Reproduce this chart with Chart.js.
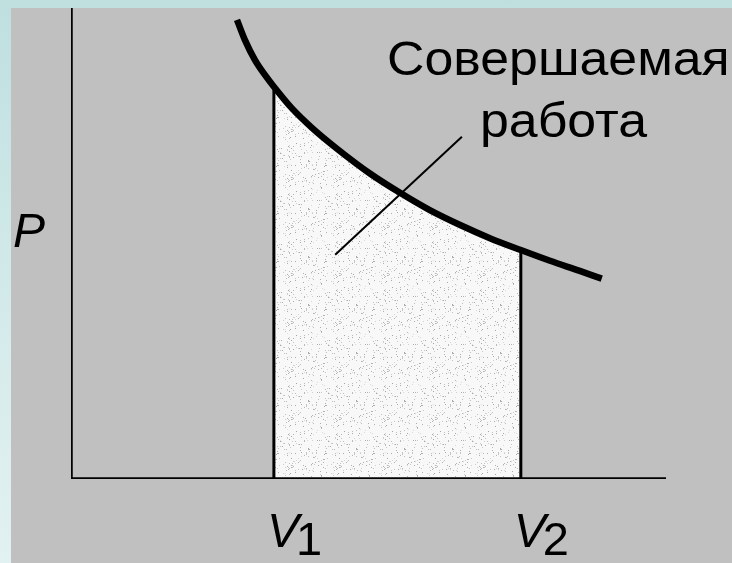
<!DOCTYPE html>
<html>
<head>
<meta charset="utf-8">
<script src="https://cdn.jsdelivr.net/npm/chart.js@4"></script>
<style>
  html, body { margin: 0; padding: 0; }
  body {
    width: 732px; height: 563px; overflow: hidden;
    background: linear-gradient(180deg, #bfdfdf 0%, #d6ebeb 60%, #e2f1f1 100%);
    position: relative;
  }
  #wrap { position: absolute; left: 11px; top: 8px; width: 721px; height: 555px; background: #c0c0c0; }
</style>
</head>
<body>
<div id="wrap"><canvas id="pv" width="721" height="555"></canvas></div>
<script>
  // isotherm (V, P in arbitrary units)
  const curveV = [2.79, 2.92, 3.09, 3.25, 3.41, 3.71, 4.05, 4.47, 5.03, 5.53, 6.03, 6.54, 7.04, 7.56, 8.05, 8.55, 8.92];
  const curveP = [7.70, 7.37, 7.03, 6.79, 6.58, 6.22, 5.89, 5.54, 5.12, 4.80, 4.51, 4.26, 4.04, 3.84, 3.66, 3.49, 3.36];

  const V1 = 3.41;
  const V2 = 7.56;
  const xMax = 10;
  const yMax = 7.9;

  // leader line from the shaded area to the caption
  const leaderV = [4.44, 6.57];
  const leaderP = [3.76, 5.74];

  const captionLines = ['Совершаемая', 'работа'];
  const xLabels = [{ v: V1, sub: '1' }, { v: V2, sub: '2' }];
  const yLabel = 'P';

  // work area: bounded by V1, curve, V2
  const areaPts = [{ x: V1, y: 0 }];
  curveV.forEach((v, i) => { if (v >= V1 && v <= V2) areaPts.push({ x: v, y: curveP[i] }); });
  areaPts.push({ x: V2, y: 0 });

  // speckled fill
  function speckle() {
    const c = document.createElement('canvas');
    c.width = 48; c.height = 48;
    const g = c.getContext('2d');
    g.fillStyle = '#f8f8f8';
    g.fillRect(0, 0, 48, 48);
    let s = 7;
    for (let i = 0; i < 170; i++) {
      s = (s * 16807) % 2147483647;
      const x = s % 48;
      s = (s * 16807) % 2147483647;
      const y = s % 48;
      s = (s * 16807) % 2147483647;
      const t = 165 + (s % 60);
      g.fillStyle = `rgb(${t},${t},${t})`;
      g.fillRect(x, y, 1, 1);
    }
    return g.createPattern(c, 'repeat');
  }

  const textPlugin = {
    id: 'labels',
    afterDatasetsDraw(chart) {
      const { ctx, scales: { x } } = chart;
      ctx.save();
      ctx.fillStyle = '#000';
      ctx.textBaseline = 'alphabetic';
      ctx.textAlign = 'left';
      // caption, set a little wider like the original lettering
      ctx.font = '48px "Liberation Sans", Arial, sans-serif';
      [[captionLines[0], 376, 67], [captionLines[1], 469, 129]].forEach(([t, tx, ty]) => {
        ctx.save();
        ctx.translate(tx, ty);
        ctx.scale(1.08, 1);
        ctx.fillText(t, 0, 0);
        ctx.restore();
      });
      // P
      ctx.font = 'italic 48px "Liberation Sans", Arial, sans-serif';
      ctx.fillText(yLabel, 2, 239);
      // V1, V2
      xLabels.forEach(l => {
        const px = x.getPixelForValue(l.v) - 7;
        ctx.font = 'italic 48px "Liberation Sans", Arial, sans-serif';
        ctx.fillText('V', px, 539);
        const w = ctx.measureText('V').width;
        ctx.font = '47px "Liberation Sans", Arial, sans-serif';
        ctx.fillText(l.sub, px + w - 3, 547);
      });
      ctx.restore();
    }
  };

  new Chart(document.getElementById('pv'), {
    type: 'scatter',
    data: {
      datasets: [
        {
          data: areaPts,
          showLine: true,
          tension: 0,
          borderColor: '#000',
          borderWidth: 3,
          backgroundColor: speckle(),
          fill: 'origin',
          pointRadius: 0,
          order: 3
        },
        {
          data: curveV.map((v, i) => ({ x: v, y: curveP[i] })),
          showLine: true,
          cubicInterpolationMode: 'monotone',
          borderColor: '#000',
          borderWidth: 6.5,
          borderCapStyle: 'butt',
          pointRadius: 0,
          order: 1
        },
        {
          data: leaderV.map((v, i) => ({ x: v, y: leaderP[i] })),
          showLine: true,
          borderColor: '#000',
          borderWidth: 2,
          pointRadius: 0,
          order: 2
        },
        {
          // axes
          data: [{ x: 0, y: yMax }, { x: 0, y: 0 }, { x: xMax, y: 0 }],
          showLine: true,
          borderColor: '#000',
          borderWidth: 3.5,
          borderJoinStyle: 'miter',
          pointRadius: 0,
          order: 0
        }
      ]
    },
    options: {
      responsive: false,
      animation: false,
      layout: { padding: { left: 60, right: 66, top: 0, bottom: 84 } },
      plugins: { legend: { display: false }, tooltip: { enabled: false } },
      scales: {
        x: { type: 'linear', min: 0, max: xMax, display: false },
        y: { type: 'linear', min: 0, max: yMax, display: false }
      }
    },
    plugins: [textPlugin]
  });
</script>
</body>
</html>
